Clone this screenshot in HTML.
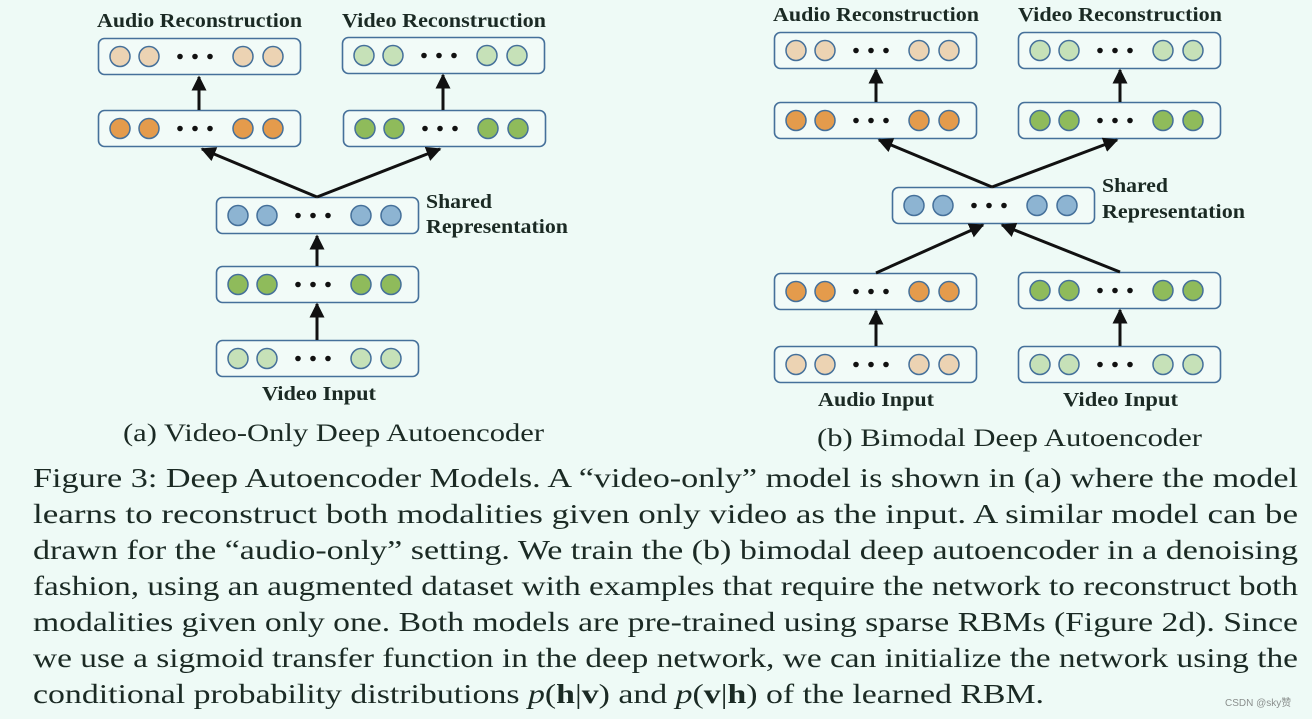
<!DOCTYPE html>
<html><head><meta charset="utf-8"><style>
html,body{margin:0;padding:0;background:#eefaf6;}
svg{display:block;}
.lb{font-family:"Liberation Serif",serif;font-weight:bold;font-size:20px;fill:#1b2a24;}
.cap{font-family:"Liberation Serif",serif;font-size:27px;fill:#1b2a24;}
.sub{font-family:"Liberation Serif",serif;font-size:25px;fill:#1b2a24;}
</style></head><body>
<svg width="1312" height="719" viewBox="0 0 1312 719" xmlns="http://www.w3.org/2000/svg">
<rect width="1312" height="719" fill="#eefaf6"/>
<defs>
<marker id="ah" viewBox="0 0 10 10" refX="9" refY="5" markerWidth="5" markerHeight="5" orient="auto"><path d="M0,0 L10,5 L0,10 z" fill="#111"/></marker>
<g id="dots"><circle cx="82" cy="18.5" r="2.8" fill="#111"/><circle cx="97" cy="18.5" r="2.8" fill="#111"/><circle cx="112" cy="18.5" r="2.8" fill="#111"/></g>
<g id="bx"><rect x="0.5" y="0.5" width="202" height="36" rx="6" fill="#f2fbf8" stroke="#45709a" stroke-width="1.6"/><use href="#dots"/></g>
<g id="la"><use href="#bx"/><g fill="#ecd3b3" stroke="#45709a" stroke-width="1.5"><circle cx="22" cy="18.5" r="10"/><circle cx="51" cy="18.5" r="10"/><circle cx="145" cy="18.5" r="10"/><circle cx="175" cy="18.5" r="10"/></g></g>
<g id="oa"><use href="#bx"/><g fill="#e49b4c" stroke="#45709a" stroke-width="1.5"><circle cx="22" cy="18.5" r="10"/><circle cx="51" cy="18.5" r="10"/><circle cx="145" cy="18.5" r="10"/><circle cx="175" cy="18.5" r="10"/></g></g>
<g id="lg"><use href="#bx"/><g fill="#c6e1b8" stroke="#45709a" stroke-width="1.5"><circle cx="22" cy="18.5" r="10"/><circle cx="51" cy="18.5" r="10"/><circle cx="145" cy="18.5" r="10"/><circle cx="175" cy="18.5" r="10"/></g></g>
<g id="gg"><use href="#bx"/><g fill="#8fbb5b" stroke="#45709a" stroke-width="1.5"><circle cx="22" cy="18.5" r="10"/><circle cx="51" cy="18.5" r="10"/><circle cx="145" cy="18.5" r="10"/><circle cx="175" cy="18.5" r="10"/></g></g>
<g id="bb"><use href="#bx"/><g fill="#8db4d2" stroke="#45709a" stroke-width="1.5"><circle cx="22" cy="18.5" r="10"/><circle cx="51" cy="18.5" r="10"/><circle cx="145" cy="18.5" r="10"/><circle cx="175" cy="18.5" r="10"/></g></g>
</defs>

<!-- Left panel -->
<use href="#la" x="98" y="38"/>
<use href="#lg" x="342" y="37"/>
<use href="#oa" x="98" y="110"/>
<use href="#gg" x="343" y="110"/>
<use href="#bb" x="216" y="197"/>
<use href="#gg" x="216" y="266"/>
<use href="#lg" x="216" y="340"/>
<g stroke="#111" stroke-width="3" fill="none" marker-end="url(#ah)">
<line x1="199" y1="110" x2="199" y2="77"/>
<line x1="443" y1="110" x2="443" y2="75"/>
<line x1="317" y1="197" x2="202" y2="149"/>
<line x1="317" y1="197" x2="440" y2="149"/>
<line x1="317" y1="266" x2="317" y2="236"/>
<line x1="317" y1="340" x2="317" y2="304"/>
</g>
<text class="lb" x="97" y="27" textLength="205" lengthAdjust="spacingAndGlyphs">Audio Reconstruction</text>
<text class="lb" x="342" y="27" textLength="204" lengthAdjust="spacingAndGlyphs">Video Reconstruction</text>
<text class="lb" x="426" y="208" textLength="66" lengthAdjust="spacingAndGlyphs">Shared</text>
<text class="lb" x="426" y="233" textLength="142" lengthAdjust="spacingAndGlyphs">Representation</text>
<text class="lb" x="262" y="400" textLength="114" lengthAdjust="spacingAndGlyphs">Video Input</text>
<text class="sub" x="123" y="441" textLength="421" lengthAdjust="spacingAndGlyphs">(a) Video-Only Deep Autoencoder</text>

<!-- Right panel -->
<use href="#la" x="774" y="32"/>
<use href="#lg" x="1018" y="32"/>
<use href="#oa" x="774" y="102"/>
<use href="#gg" x="1018" y="102"/>
<use href="#bb" x="892" y="187"/>
<use href="#oa" x="774" y="273"/>
<use href="#gg" x="1018" y="272"/>
<use href="#la" x="774" y="346"/>
<use href="#lg" x="1018" y="346"/>
<g stroke="#111" stroke-width="3" fill="none" marker-end="url(#ah)">
<line x1="876" y1="102" x2="876" y2="70"/>
<line x1="1120" y1="102" x2="1120" y2="70"/>
<line x1="992" y1="187" x2="879" y2="140"/>
<line x1="992" y1="187" x2="1117" y2="140"/>
<line x1="876" y1="273" x2="983" y2="225"/>
<line x1="1120" y1="272" x2="1002" y2="225"/>
<line x1="876" y1="346" x2="876" y2="311"/>
<line x1="1120" y1="346" x2="1120" y2="310"/>
</g>
<text class="lb" x="773" y="21" textLength="206" lengthAdjust="spacingAndGlyphs">Audio Reconstruction</text>
<text class="lb" x="1018" y="21" textLength="204" lengthAdjust="spacingAndGlyphs">Video Reconstruction</text>
<text class="lb" x="1102" y="192" textLength="66" lengthAdjust="spacingAndGlyphs">Shared</text>
<text class="lb" x="1102" y="218" textLength="143" lengthAdjust="spacingAndGlyphs">Representation</text>
<text class="lb" x="818" y="406" textLength="116" lengthAdjust="spacingAndGlyphs">Audio Input</text>
<text class="lb" x="1063" y="406" textLength="115" lengthAdjust="spacingAndGlyphs">Video Input</text>
<text class="sub" x="817" y="446" textLength="385" lengthAdjust="spacingAndGlyphs">(b) Bimodal Deep Autoencoder</text>

<!-- Caption -->
<text class="cap" x="33" y="487" textLength="1265" lengthAdjust="spacingAndGlyphs">Figure 3: Deep Autoencoder Models. A “video-only” model is shown in (a) where the model</text>
<text class="cap" x="33" y="523" textLength="1265" lengthAdjust="spacingAndGlyphs">learns to reconstruct both modalities given only video as the input. A similar model can be</text>
<text class="cap" x="33" y="559" textLength="1265" lengthAdjust="spacingAndGlyphs">drawn for the “audio-only” setting. We train the (b) bimodal deep autoencoder in a denoising</text>
<text class="cap" x="33" y="595" textLength="1265" lengthAdjust="spacingAndGlyphs">fashion, using an augmented dataset with examples that require the network to reconstruct both</text>
<text class="cap" x="33" y="631" textLength="1265" lengthAdjust="spacingAndGlyphs">modalities given only one. Both models are pre-trained using sparse RBMs (Figure 2d). Since</text>
<text class="cap" x="33" y="667" textLength="1265" lengthAdjust="spacingAndGlyphs">we use a sigmoid transfer function in the deep network, we can initialize the network using the</text>
<text class="cap" x="33" y="703" textLength="1011" lengthAdjust="spacingAndGlyphs">conditional probability distributions <tspan font-style="italic">p</tspan>(<tspan font-weight="bold">h</tspan>|<tspan font-weight="bold">v</tspan>) and <tspan font-style="italic">p</tspan>(<tspan font-weight="bold">v</tspan>|<tspan font-weight="bold">h</tspan>) of the learned RBM.</text>
<text x="1225" y="706" font-family="Liberation Sans, Noto Sans CJK SC, sans-serif" font-size="10" fill="#8a8f8d">CSDN @sky赞</text>
</svg>
</body></html>
